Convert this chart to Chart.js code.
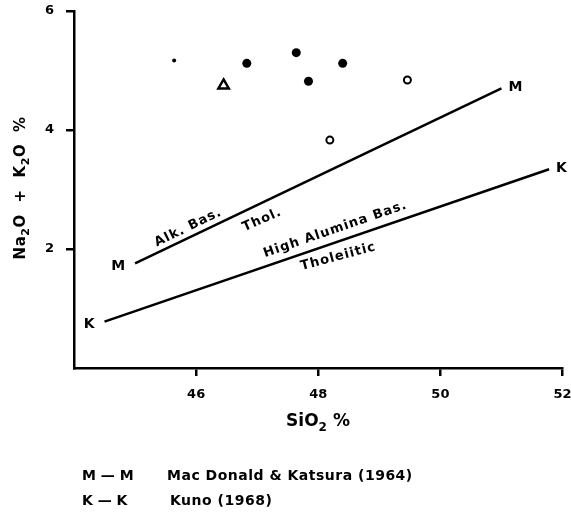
<!DOCTYPE html>
<html><head><meta charset="utf-8">
<script src="https://cdn.jsdelivr.net/npm/chart.js@4"></script>
<style>html,body{margin:0;padding:0;background:#fff;}#wrap{position:relative;width:571px;height:516px;}</style>
</head><body><div id="wrap"><canvas id="c" width="571" height="516"></canvas></div>
<script>
// ---- data ----
const xTicks = [46, 48, 50, 52];
const yTicks = [2, 4, 6];
const filledSiO2 = [46.83, 47.64, 47.84, 48.40];
const filledAlk  = [5.12, 5.30, 4.82, 5.12];
const openSiO2   = [49.46, 48.19];
const openAlk    = [4.84, 3.83];
const triSiO2    = [46.45];
const triAlk     = [4.75];
const dotSiO2    = [45.64];
const dotAlk     = [5.17];
const mLineSiO2  = [45.0, 51.0];
const mLineAlk   = [1.76, 4.70];
const kLineSiO2  = [44.5, 51.78];
const kLineAlk   = [0.78, 3.34];
const legendRows = [["M — M", "Mac Donald & Katsura (1964)"], ["K — K", "Kuno (1968)"]];

const pts = (xs, ys) => xs.map((x, i) => ({x, y: ys[i]}));
const FONT = "'DejaVu Sans', sans-serif";

function drawRich(ctx, parts, size, spacing) {
  let total = 0;
  ctx.letterSpacing = spacing + 'px';
  const ws = parts.map(([t, sub]) => {
    ctx.font = `bold ${sub ? Math.round(size * 0.7) : size}px ${FONT}`;
    const w = ctx.measureText(t).width; total += w; return w;
  });
  let x = -total / 2;
  parts.forEach(([t, sub], i) => {
    ctx.font = `bold ${sub ? Math.round(size * 0.7) : size}px ${FONT}`;
    ctx.textBaseline = 'middle'; ctx.textAlign = 'left';
    ctx.fillText(t, x, sub ? size * 0.35 : 0);
    x += ws[i];
  });
  ctx.letterSpacing = '0px';
}

const textPlugin = {
  id: 'texts',
  afterDraw(chart) {
    const ctx = chart.ctx, xs = chart.scales.x, ys = chart.scales.y;
    ctx.save();
    ctx.fillStyle = '#000';
    // y axis title
    ctx.save(); ctx.translate(21, 188); ctx.rotate(-Math.PI / 2);
    drawRich(ctx, [["Na", 0], ["2", 1], ["O  +  K", 0], ["2", 1], ["O  %", 0]], 15, 0.6);
    ctx.restore();
    // x axis title
    ctx.save(); ctx.translate(318, 422);
    drawRich(ctx, [["SiO", 0], ["2", 1], [" %", 0]], 17, 0);
    ctx.restore();
    // region annotations (anchored in data space)
    const ann = [
      ["Alk. Bas.", 45.87, 2.36, -26],
      ["Thol.", 47.08, 2.49, -24],
      ["High Alumina Bas.", 48.28, 2.33, -19],
      ["Tholeiitic", 48.33, 1.87, -15]
    ];
    ctx.letterSpacing = '1px';
    ann.forEach(([t, x, y, a]) => {
      ctx.save(); ctx.translate(xs.getPixelForValue(x), ys.getPixelForValue(y));
      ctx.rotate(a * Math.PI / 180);
      ctx.font = `bold 13px ${FONT}`; ctx.textAlign = 'center'; ctx.textBaseline = 'middle';
      ctx.fillText(t, 0, 0); ctx.restore();
    });
    ctx.letterSpacing = '0px';
    // line end letters
    ctx.font = `bold 14px ${FONT}`; ctx.textBaseline = 'middle';
    const ends = [["M", mLineSiO2, mLineAlk], ["K", kLineSiO2, kLineAlk]];
    ends.forEach(([t, sx, sy]) => {
      ctx.textAlign = 'right';
      ctx.fillText(t, xs.getPixelForValue(sx[0]) - 10, ys.getPixelForValue(sy[0]) + 3);
      ctx.textAlign = 'left';
      ctx.fillText(t, xs.getPixelForValue(sx[1]) + 7, ys.getPixelForValue(sy[1]) - 1);
    });
    // legend
    ctx.font = `bold 14px ${FONT}`; ctx.textAlign = 'left'; ctx.textBaseline = 'middle';
    legendRows.forEach(([k, v], i) => {
      const y = 476 + i * 25;
      ctx.letterSpacing = '0px';
      ctx.fillText(k, 82, y);
      ctx.letterSpacing = '0.5px';
      ctx.fillText(v, i === 0 ? 167 : 170, y);
    });
    ctx.restore();
  }
};

const tickColor = (hide) => (c) => (c.tick && c.tick.value === hide ? 'rgba(0,0,0,0)' : '#000');

new Chart(document.getElementById('c'), {
  type: 'scatter',
  data: {
    datasets: [
      {data: pts(mLineSiO2, mLineAlk), showLine: true, borderColor: '#000', borderWidth: 2.5, pointRadius: 0},
      {data: pts(kLineSiO2, kLineAlk), showLine: true, borderColor: '#000', borderWidth: 2.5, pointRadius: 0},
      {data: pts(filledSiO2, filledAlk), pointRadius: 4.5, backgroundColor: '#000', borderColor: '#000', borderWidth: 0},
      {data: pts(openSiO2, openAlk), pointRadius: 3.5, backgroundColor: '#fff', borderColor: '#000', borderWidth: 2},
      {data: pts(triSiO2, triAlk), pointStyle: 'triangle', pointRadius: 6, backgroundColor: '#fff', borderColor: '#000', borderWidth: 2.5},
      {data: pts(dotSiO2, dotAlk), pointRadius: 2, backgroundColor: '#000', borderColor: '#000', borderWidth: 0}
    ]
  },
  options: {
    responsive: false, animation: false, devicePixelRatio: 1,
    layout: {padding: {top: 11, right: 8, left: 0, bottom: 0}},
    plugins: {legend: {display: false}, tooltip: {enabled: false}},
    scales: {
      x: {
        type: 'linear', min: 44, max: 52,
        afterFit: s => { s.height = 148; s.paddingLeft = 0; s.paddingRight = 0; },
        afterBuildTicks: s => { s.ticks = [44, ...xTicks].map(v => ({value: v})); },
        ticks: {callback: v => (xTicks.includes(v) ? String(v) : ''), color: '#000', font: {family: FONT, weight: 'bold', size: 13}, padding: 11, maxRotation: 0},
        grid: {drawOnChartArea: false, drawTicks: true, tickLength: 8, color: tickColor(44), lineWidth: 2.5},
        border: {display: true, color: '#000', width: 2.5}
      },
      y: {
        type: 'linear', min: 0, max: 6,
        afterFit: s => { s.width = 74; s.paddingTop = 0; s.paddingBottom = 0; },
        afterBuildTicks: s => { s.ticks = [0, ...yTicks].map(v => ({value: v})); },
        ticks: {callback: v => (yTicks.includes(v) ? String(v) : ''), color: '#000', font: {family: FONT, weight: 'bold', size: 13}, padding: 12},
        grid: {drawOnChartArea: false, drawTicks: true, tickLength: 8, color: tickColor(0), lineWidth: 2.5},
        border: {display: true, color: '#000', width: 2.5}
      }
    }
  },
  plugins: [textPlugin]
});
</script></body></html>
